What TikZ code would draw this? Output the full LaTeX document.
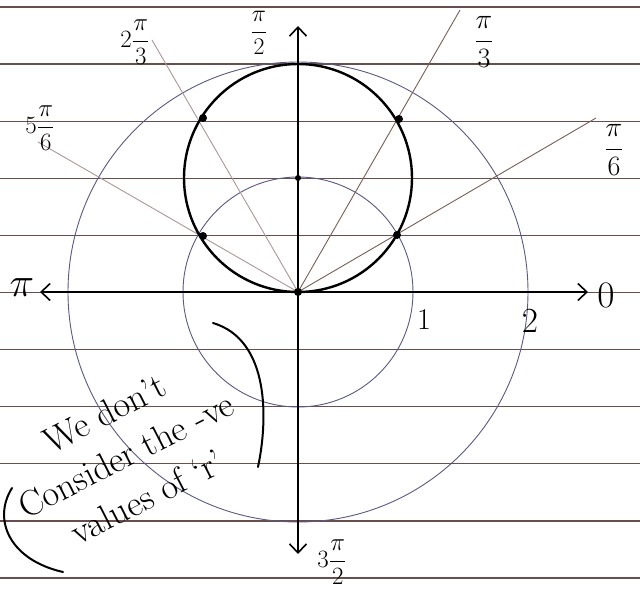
\documentclass[tikz,border=0pt]{standalone}
\usepackage{graphicx}
\usetikzlibrary{arrows.meta}
\begin{document}
\begin{tikzpicture}[x=1pt,y=-1pt,
  rule/.style={draw=rulecol,line width=1.3pt},
  axis/.style={draw=black,line width=1.6pt},
  thin/.style={draw=circcol,line width=0.9pt},
  raydark/.style={draw=raycol,line width=0.9pt},
  raylight/.style={draw=raylt,line width=0.9pt},
  tip/.style={-{Straight Barb[length=9pt,width=17pt,line width=1.6pt]}},
  lbl/.style={inner sep=0pt,font=\fontsize{20.74}{24}\selectfont},
  note/.style={inner sep=0pt,align=center,font=\fontsize{36}{47}\selectfont,rotate=27},
  dotp/.style={circle,fill=black,inner sep=0pt,minimum size=8pt}]
\definecolor{rulecol}{RGB}{105,78,78}
\definecolor{circcol}{RGB}{90,90,130}
\definecolor{raycol}{RGB}{120,95,85}
\definecolor{raylt}{RGB}{175,150,150}
\useasboundingbox (0,0) rectangle (640,592);
\fill[white] (0,0) rectangle (640,592);
% ruled paper
\foreach \k in {0,...,10} \draw[rule] (0,{7+57.1*\k}) -- (640,{7+57.1*\k});
% coordinates
\coordinate (O) at (298,292);
\coordinate (C) at (298,178);
\coordinate (r30) at (596,118);
\coordinate (r60) at (460,10);
\coordinate (r120) at (152,40);
\coordinate (r150) at (38,142);
% circles r=1, r=2
\draw[thin] (O) circle[radius=115];
\draw[thin] (O) circle[radius=230];
% rays
\draw[raydark] (O) -- (r30);
\draw[raydark] (O) -- (r60);
\draw[raylight] (O) -- (r120);
\draw[raylight] (O) -- (r150);
% thick curve r = 2 sin theta
\draw[black,line width=2.4pt] (C) circle[radius=114];
% labels
\node[lbl] (pi) at (22,288) {\scalebox{2.0}{$\pi$}};
\node[lbl] (zero) at (606,295) {\scalebox{1.8}{$0$}};
\node[lbl] (one) at (424,320) {\scalebox{1.45}{$1$}};
\node[lbl] (two) at (530,321) {\scalebox{1.7}{$2$}};
\node[lbl] (l90) at (259,33) {\scalebox{1.15}{$\displaystyle\frac{\pi}{2}$}};
\node[lbl] (l120) at (135,42) {\scalebox{1.2}{$2\displaystyle\frac{\pi}{3}$}};
\node[lbl] (l150) at (40,128) {\scalebox{1.2}{$5\displaystyle\frac{\pi}{6}$}};
\node[lbl] (l60) at (484,42) {\scalebox{1.35}{$\displaystyle\frac{\pi}{3}$}};
\node[lbl] (l30) at (614,150) {\scalebox{1.35}{$\displaystyle\frac{\pi}{6}$}};
\node[lbl] (l270) at (332,562) {\scalebox{1.2}{$3\displaystyle\frac{\pi}{2}$}};
% axes
\coordinate (top) at (298,26);
\coordinate (bot) at (298,554);
\coordinate (right) at (588,292);
\coordinate (left) at (40,292);
\draw[axis,tip] (O) -- (right);
\draw[axis,tip] (O) -- (left);
\draw[axis,tip] (O) -- (top);
\draw[axis,tip] (O) -- (bot);
% points
\node[dotp] (p0) at (O) {};
\node[dotp,minimum size=6pt] (pc) at (C) {};
\node[dotp] (p30) at (397,235) {};
\node[dotp] (p60) at (399,119) {};
\node[dotp] (p120) at (203,118) {};
\node[dotp] (p150) at (203,236) {};
% note
\node[note] (n) at (126,455) {We don't\\Consider the -ve\\values of `r'};
% brackets
\coordinate (b1) at (213,323);
\coordinate (b2) at (258,467);
\draw[black,line width=2pt,line cap=round] (b1) .. controls (270,340) and (268,420) .. (b2);
\coordinate (c1) at (12,488);
\coordinate (c2) at (63,572);
\draw[black,line width=2pt,line cap=round] (c1) .. controls (-8,520) and (10,560) .. (c2);
\end{tikzpicture}
\end{document}
